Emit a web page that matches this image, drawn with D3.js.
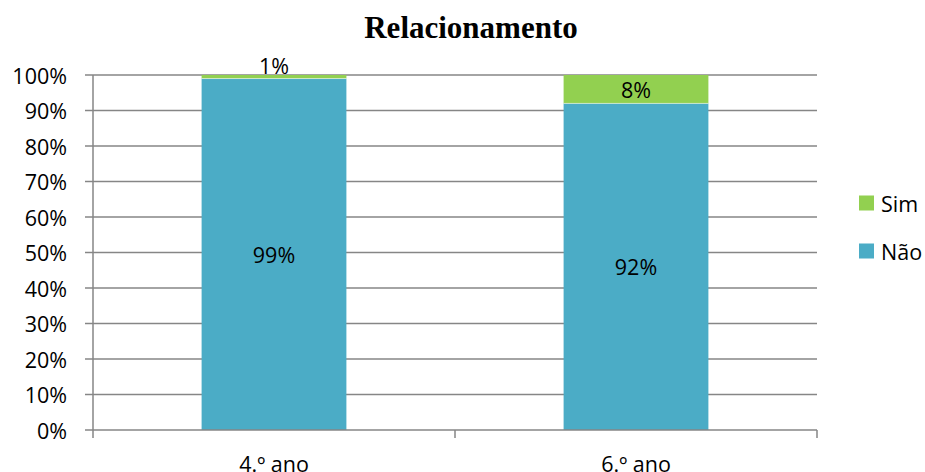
<!DOCTYPE html>
<html><head><meta charset="utf-8">
<script src="https://cdn.jsdelivr.net/npm/d3@7"></script>
<style>body{margin:0;background:#fff}svg{display:block}</style>
</head><body>
<script>
const categories = ["4.º ano", "6.º ano"];
const seriesNames = ["Não", "Sim"];
const naoValues = [99, 92];
const simValues = [1, 8];
const yTicks = [0,10,20,30,40,50,60,70,80,90,100];
const colors = {"Não":"#4BACC6","Sim":"#92D050"};

(function(){
const W=925,H=472;
const svg=d3.select("body").append("svg").attr("width",W).attr("height",H);
const pL=93,pR=817,pT=75,pB=430;
const font="'Open Sans', sans-serif";
const x=d3.scaleBand().domain(categories).range([pL,pR]).paddingInner(0.6).paddingOuter(0.3);
const y=d3.scaleLinear().domain([0,100]).range([pB,pT]);

svg.append("text").attr("x",471).attr("y",38).attr("text-anchor","middle")
  .attr("font-family","'Liberation Serif','Times New Roman',serif").attr("font-weight","bold")
  .attr("font-size",31).text("Relacionamento");

// gridlines
svg.append("g").selectAll("line").data(yTicks.filter(d=>d>0)).join("line")
  .attr("x1",pL-8).attr("x2",pR).attr("y1",d=>y(d)).attr("y2",d=>y(d))
  .attr("stroke","#868686").attr("stroke-width",1.5);

const rows=categories.map((c,i)=>({cat:c,"Não":naoValues[i],"Sim":simValues[i]}));
const stack=d3.stack().keys(seriesNames)(rows);
const g=svg.append("g");
stack.forEach(s=>{
  g.selectAll(null).data(s).join("rect")
   .attr("x",d=>x(d.data.cat)).attr("width",x.bandwidth())
   .attr("y",d=>y(d[1])).attr("height",d=>y(d[0])-y(d[1]))
   .attr("fill",colors[s.key]);
});
g.selectAll(null).data(stack[0]).join("line")
  .attr("x1",d=>x(d.data.cat)).attr("x2",d=>x(d.data.cat)+x.bandwidth())
  .attr("y1",d=>y(d[1])).attr("y2",d=>y(d[1])).attr("stroke","#ffffff").attr("stroke-opacity",0.5).attr("stroke-width",1);

stack.forEach(s=>{
  g.selectAll(null).data(s).join("text")
   .attr("x",d=>x(d.data.cat)+x.bandwidth()/2)
   .attr("y",d=>{const h=y(d[0])-y(d[1]); return h<20? y(d[1])-10 : (y(d[0])+y(d[1]))/2;})
   .attr("text-anchor","middle").attr("dominant-baseline","central")
   .attr("font-family",font).attr("font-size",21.5).attr("fill","#000")
   .text(d=>(d[1]-d[0])+"%");
});

const ax=svg.append("g");
ax.append("line").attr("x1",pL).attr("x2",pL).attr("y1",pT).attr("y2",pB+8).attr("stroke","#868686").attr("stroke-width",1.5);
ax.append("line").attr("x1",pL-8).attr("x2",pR).attr("y1",pB).attr("y2",pB).attr("stroke","#868686").attr("stroke-width",1.5);
const bounds=[pL+x.step()*1, pR];
ax.selectAll(null).data(bounds).join("line").attr("x1",d=>d).attr("x2",d=>d).attr("y1",pB).attr("y2",pB+8).attr("stroke","#868686").attr("stroke-width",1.5);
ax.selectAll(null).data(yTicks).join("text").attr("x",67).attr("y",d=>y(d)).attr("text-anchor","end")
  .attr("dominant-baseline","central").attr("font-family",font).attr("font-size",21.5).text(d=>d+"%");
ax.selectAll(null).data(categories).join("text").attr("x",d=>x(d)+x.bandwidth()/2).attr("y",463)
  .attr("text-anchor","middle").attr("dominant-baseline","central").attr("font-family",font).attr("font-size",21.5).text(d=>d);

const leg=svg.append("g");
["Sim","Não"].forEach((k,i)=>{
  const cy=203+i*48;
  leg.append("rect").attr("x",859).attr("y",cy-7.5).attr("width",15).attr("height",15).attr("fill",colors[k]);
  leg.append("text").attr("x",881).attr("y",cy).attr("dominant-baseline","central").attr("font-family",font).attr("font-size",21.5).text(k);
});
})();
</script>
</body></html>
